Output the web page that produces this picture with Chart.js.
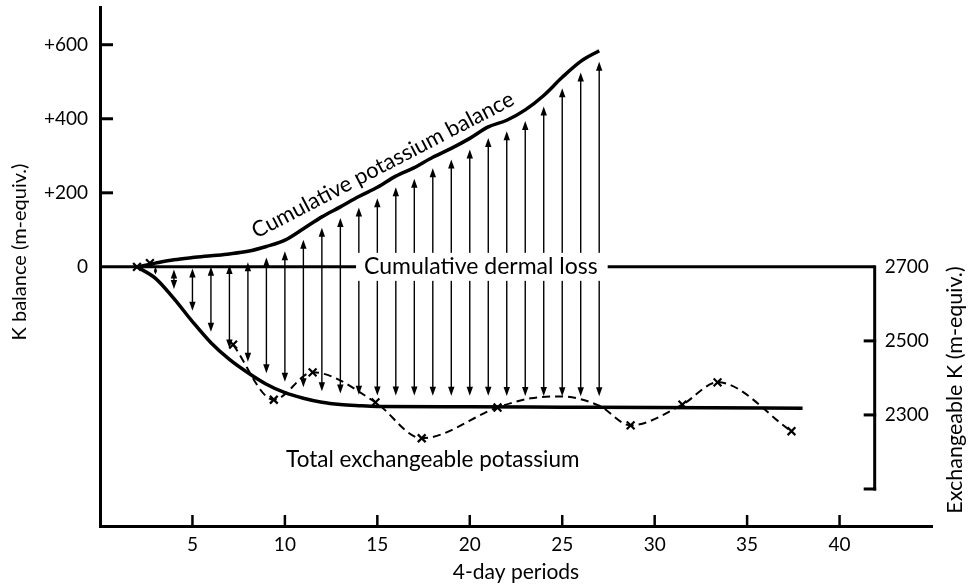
<!DOCTYPE html>
<html>
<head>
<meta charset="utf-8">
<script src="https://cdn.jsdelivr.net/npm/chart.js@4.4.1/dist/chart.umd.min.js"></script>
<style>
  html, body { margin: 0; padding: 0; background: #fff; }
  canvas { display: block; }
</style>
</head>
<body>
<canvas id="chart" width="972" height="586"></canvas>
<script>
// Cumulative potassium balance (m-equiv.) at the end of each 4-day period
const balancePeriods = [2, 3, 4, 5, 6, 7, 8, 9, 10, 11, 12, 13, 14, 15, 16, 17, 18, 19, 20, 21, 22, 23, 24, 25, 26, 27];
const balanceValues  = [0, 10, 19, 25, 30, 35, 42, 55, 72, 103, 135, 162, 190, 215, 245, 268, 296, 320, 347, 378, 396, 424, 463, 512, 555, 584];

// Total exchangeable potassium, smoothed curve (m-equiv., right-hand scale)
const tekPeriods = [2, 3, 4, 5, 6, 7, 8, 9, 10, 11, 12, 13, 14, 15, 20, 25, 30, 38];
const tekValues  = [2700, 2669, 2614, 2552, 2495, 2450, 2414, 2383, 2360, 2345, 2334, 2328, 2325, 2323, 2322, 2321, 2320, 2318];

// Measured exchangeable K (crosses)
const measuredPeriods = [2.0, 2.7, 7.2, 9.4, 11.5, 14.9, 17.4, 21.5, 28.7, 31.5, 33.4, 37.4];
const measuredK       = [2700, 2710, 2490, 2341, 2415, 2334, 2237, 2320, 2272, 2328, 2388, 2256];

// Extra vertices of the hand-drawn dashed trace between crosses
const traceShapePeriods = [23.3, 24.9, 27.0];
const traceShapeK       = [2345, 2350, 2325];

// Cumulative dermal loss baseline, running out to the exchangeable-K axis
const exchAxisPeriod = 41.9;
const dermalPeriods = [0, exchAxisPeriod];
const dermalLoss    = [0, 0];

// Periods carrying a double-headed arrow between the two curves
const arrowPeriods = [3, 4, 5, 6, 7, 8, 9, 10, 11, 12, 13, 14, 15, 16, 17, 18, 19, 20, 21, 22, 23, 24, 25, 26, 27];

// Axis ticks
const periodTicks  = [5, 10, 15, 20, 25, 30, 35, 40];
const balanceTicks = [0, 200, 400, 600];
const exchTicks    = [2700, 2500, 2300, 2100];
const exchTickText = ['2700', '2500', '2300', ''];

const FONT = 'Lato, "Open Sans", sans-serif';
const INK = '#000';

const pts = (xs, ys) => xs.map((x, i) => ({ x, y: ys[i] }));

// dashed trace: crosses from period 7 onward plus shape vertices
const tracePts = pts(measuredPeriods, measuredK).filter(p => p.x > 5)
  .concat(pts(traceShapePeriods, traceShapeK))
  .sort((a, b) => a.x - b.x);

function lerp(xs, ys, v) {
  if (v <= xs[0]) return ys[0];
  for (let i = 1; i < xs.length; i++) {
    if (v <= xs[i]) {
      const t = (v - xs[i - 1]) / (xs[i] - xs[i - 1]);
      return ys[i - 1] + t * (ys[i] - ys[i - 1]);
    }
  }
  return ys[ys.length - 1];
}

function arrowHead(ctx, x, tipY, len, half, dir) {
  // dir = -1 points up, +1 points down
  ctx.beginPath();
  ctx.moveTo(x, tipY);
  ctx.lineTo(x - half, tipY - dir * len);
  ctx.lineTo(x + half, tipY - dir * len);
  ctx.closePath();
  ctx.fill();
}

function label(ctx, text, x, y, opts) {
  ctx.save();
  ctx.translate(x, y);
  if (opts.angle) ctx.rotate(opts.angle * Math.PI / 180);
  ctx.font = opts.font;
  ctx.textAlign = opts.align || 'center';
  ctx.textBaseline = 'middle';
  if (opts.bg) {
    const w = ctx.measureText(text).width;
    ctx.fillStyle = '#fff';
    ctx.fillRect(-w / 2 - 8, -14, w + 18, 28);
  }
  ctx.fillStyle = INK;
  ctx.fillText(text, 0, 0);
  ctx.restore();
}

const figureMarks = {
  id: 'figureMarks',
  beforeDatasetsDraw(chart) {
    const { ctx, scales: { x, y, y2 } } = chart;
    ctx.save();
    ctx.strokeStyle = INK;
    ctx.fillStyle = INK;
    ctx.lineWidth = 1.4;
    for (const p of arrowPeriods) {
      const px = x.getPixelForValue(p);
      const top0 = y.getPixelForValue(lerp(balancePeriods, balanceValues, p));
      const bot0 = y2.getPixelForValue(lerp(tekPeriods, tekValues, p));
      const gap = Math.min(11, (bot0 - top0) / 4);
      const top = top0 + gap, bot = bot0 - gap;
      const head = Math.min(9, (bot - top) / 2);
      const half = Math.min(3.2, head * 0.45);
      ctx.beginPath();
      ctx.moveTo(px, top + head * 0.8);
      ctx.lineTo(px, bot - head * 0.8);
      ctx.stroke();
      arrowHead(ctx, px, top, head, half, -1);
      arrowHead(ctx, px, bot, head, half, 1);
    }
    ctx.restore();
  },
  afterDatasetsDraw(chart) {
    const { ctx, chartArea, scales: { x, y, y2 } } = chart;
    ctx.save();
    ctx.strokeStyle = INK;
    ctx.fillStyle = INK;
    ctx.lineCap = 'butt';

    // inward tick marks on the balance axis
    ctx.lineWidth = 3;
    for (const v of balanceTicks) {
      if (v === 0) continue;
      const py = y.getPixelForValue(v);
      ctx.beginPath(); ctx.moveTo(chartArea.left, py); ctx.lineTo(chartArea.left + 13, py); ctx.stroke();
    }
    // inward tick marks on the period axis
    ctx.lineWidth = 2.5;
    for (const v of periodTicks) {
      const px = x.getPixelForValue(v);
      ctx.beginPath(); ctx.moveTo(px, chartArea.bottom); ctx.lineTo(px, chartArea.bottom - 11); ctx.stroke();
    }

    // exchangeable-K axis standing inside the plot
    const ax = x.getPixelForValue(exchAxisPeriod);
    const aTop = y2.getPixelForValue(exchTicks[0]);
    const aBot = y2.getPixelForValue(exchTicks[exchTicks.length - 1]);
    ctx.lineWidth = 3;
    ctx.beginPath(); ctx.moveTo(ax, aTop - 1.5); ctx.lineTo(ax, aBot + 1.5); ctx.stroke();
    exchTicks.forEach((v, i) => {
      const py = y2.getPixelForValue(v);
      if (i > 0) {
        ctx.beginPath(); ctx.moveTo(ax + 1.5, py); ctx.lineTo(ax - 11, py); ctx.stroke();
      }
      if (exchTickText[i]) label(ctx, exchTickText[i], ax + 10, py, { font: `19px ${FONT}`, align: 'left' });
    });

    // curve annotations
    label(ctx, 'Cumulative dermal loss', x.getPixelForValue(20.6), y.getPixelForValue(0),
      { font: `23px ${FONT}`, bg: true });
    label(ctx, 'Cumulative potassium balance', x.getPixelForValue(15.3), y.getPixelForValue(275),
      { font: `22px ${FONT}`, angle: -27.5 });
    label(ctx, 'Total exchangeable potassium', x.getPixelForValue(18.0), y2.getPixelForValue(2180),
      { font: `22.5px ${FONT}` });

    // axis titles
    label(ctx, 'K balance (m-equiv.)', 20, 252, { font: `20px ${FONT}`, angle: -90 });
    label(ctx, 'Exchangeable K (m-equiv.)', 955, 390, { font: `21.5px ${FONT}`, angle: -90 });
    label(ctx, '4-day periods', (chartArea.left + chartArea.right) / 2, 572, { font: `21px ${FONT}` });
    ctx.restore();
  }
};

const zeroPadding = s => { s.paddingTop = 0; s.paddingBottom = 0; s.paddingLeft = 0; s.paddingRight = 0; };

new Chart(document.getElementById('chart'), {
  type: 'scatter',
  data: {
    datasets: [
      {
        label: 'Cumulative dermal loss',
        data: pts(dermalPeriods, dermalLoss),
        showLine: true, borderColor: INK, borderWidth: 3, pointRadius: 0, yAxisID: 'y'
      },
      {
        label: 'Cumulative potassium balance',
        data: pts(balancePeriods, balanceValues),
        showLine: true, borderColor: INK, borderWidth: 3.5, pointRadius: 0,
        cubicInterpolationMode: 'monotone', yAxisID: 'y'
      },
      {
        label: 'Total exchangeable potassium',
        data: pts(tekPeriods, tekValues),
        showLine: true, borderColor: INK, borderWidth: 3.5, pointRadius: 0,
        cubicInterpolationMode: 'monotone', yAxisID: 'y2'
      },
      {
        label: 'Exchangeable K trace',
        data: tracePts,
        showLine: true, borderColor: INK, borderWidth: 2, borderDash: [8, 5], pointRadius: 0,
        cubicInterpolationMode: 'monotone', yAxisID: 'y2'
      },
      {
        label: 'Exchangeable K measured',
        data: pts(measuredPeriods, measuredK),
        showLine: false, pointStyle: 'crossRot', pointRadius: 5.5, borderWidth: 2.2,
        borderColor: INK, backgroundColor: INK, yAxisID: 'y2'
      }
    ]
  },
  options: {
    responsive: false,
    animation: false,
    devicePixelRatio: 1,
    layout: { padding: { top: 7, right: 40, bottom: 0, left: 0 } },
    plugins: { legend: { display: false }, tooltip: { enabled: false } },
    scales: {
      x: {
        type: 'linear', min: 0, max: 45,
        grid: { display: false, drawTicks: false },
        border: { display: true, color: INK, width: 3 },
        ticks: { color: INK, padding: 7, font: { family: FONT, size: 19 } },
        afterBuildTicks: s => { s.ticks = periodTicks.map(v => ({ value: v })); },
        afterFit: s => { s.height = 60; zeroPadding(s); }
      },
      y: {
        type: 'linear', position: 'left', min: -700, max: 700,
        grid: { display: false, drawTicks: false },
        border: { display: true, color: INK, width: 3 },
        ticks: {
          color: INK, padding: 12, font: { family: FONT, size: 19 },
          callback: v => (v > 0 ? '+' + v : String(v))
        },
        afterBuildTicks: s => { s.ticks = balanceTicks.map(v => ({ value: v })); },
        afterFit: s => { s.width = 100; zeroPadding(s); }
      },
      y2: {
        type: 'linear', position: 'right', min: 2000, max: 3400, display: false
      }
    }
  },
  plugins: [figureMarks]
});
</script>
</body>
</html>
